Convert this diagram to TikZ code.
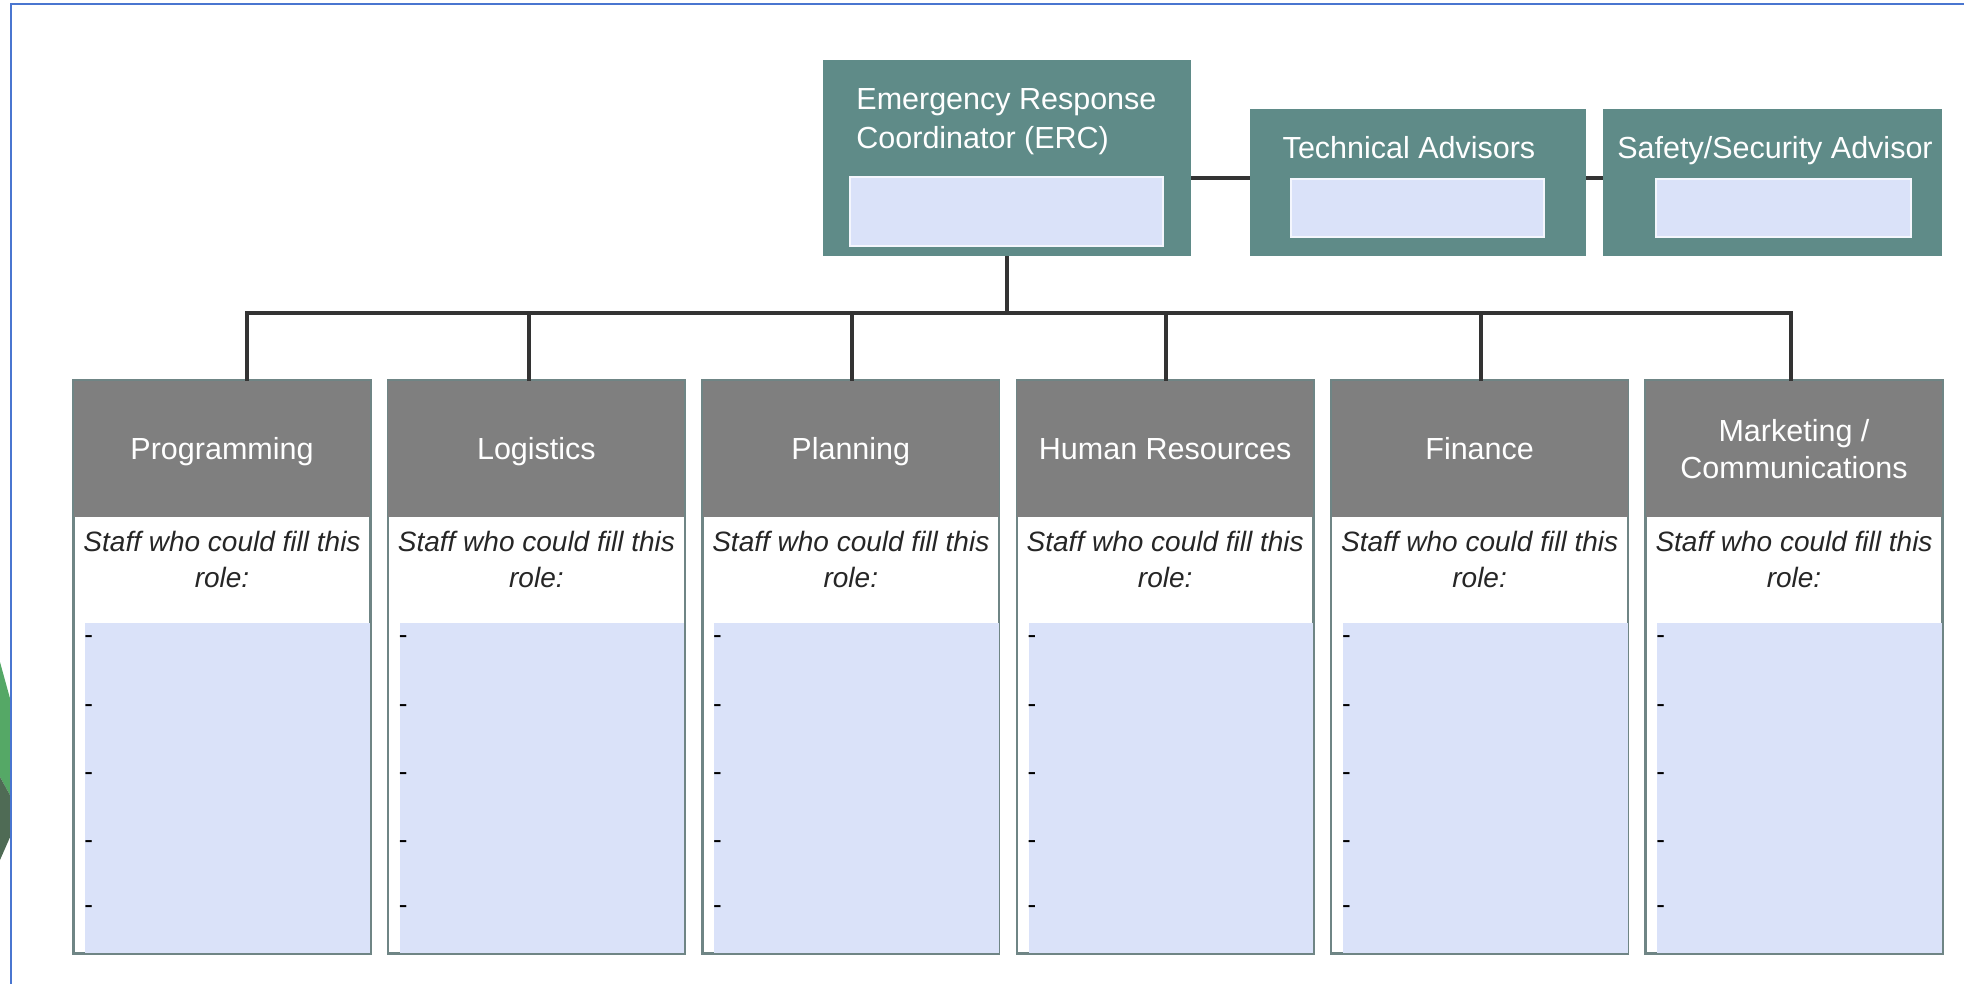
\documentclass[tikz,border=0pt]{standalone}
\usepackage{fontspec}
\setmainfont{Liberation Sans}
\definecolor{teal1}{HTML}{5F8B88}
\definecolor{hdrgray}{HTML}{7F7F7F}
\definecolor{lightblue}{HTML}{DAE2F9}
\definecolor{boxline}{HTML}{6F8585}
\definecolor{linkc}{HTML}{333333}
\definecolor{framec}{HTML}{4A76D0}
\definecolor{greenA}{HTML}{55A866}
\definecolor{greenB}{HTML}{4F6B55}
\begin{document}
\begin{tikzpicture}[x=0.5pt,y=-0.5pt,
  teal/.style={fill=teal1,draw=none,inner sep=0pt},
  inbox/.style={fill=lightblue,draw=white!70!lightblue,line width=0.6pt,inner sep=0pt},
  ttext/.style={text=white,inner sep=0pt,font=\fontsize{15.25pt}{19.5pt}\selectfont},
  hdr/.style={fill=hdrgray,text=white,inner sep=0pt,minimum width=148pt,minimum height=68pt,align=center,font=\fontsize{15.25pt}{18.5pt}\selectfont},
  colbox/.style={fill=white,draw=boxline,line width=0.8pt,inner sep=0pt,minimum width=148pt,minimum height=286pt},
  fillarea/.style={fill=lightblue,inner sep=0pt,minimum width=142.5pt,minimum height=165pt},
  stafftext/.style={inner sep=0pt,align=center,text=black!85,font=\fontsize{14pt}{18pt}\selectfont\itshape},
  dashtext/.style={inner sep=0pt,anchor=west,text=black,font=\fontsize{13pt}{15pt}\selectfont},
  link/.style={draw=linkc,line width=2.1pt,line join=miter},
  frame/.style={draw=framec,line width=1pt}]
\useasboundingbox (0,0) rectangle (1964,984);
% background accents
\fill[greenA] (0,662) -- (11,702) -- (11,797) -- (0,777) -- cycle;
\fill[greenB] (0,777) -- (11,797) -- (11,835) -- (0,860) -- cycle;
\draw[frame] (11,984) -- (11,4) -- (1964,4);
% top boxes
\node[teal,minimum width=184pt,minimum height=98pt] (erc) at (1007,158) {};
\node[inbox,minimum width=156.5pt,minimum height=34.5pt] (ercin) at (1006.5,211.5) {};
\node[ttext,anchor=west,align=left] (erct) at (856,121.5) {Emergency Response\\Coordinator (ERC)};
\node[teal,minimum width=168pt,minimum height=73.5pt] (tech) at (1418,182.5) {};
\node[inbox,minimum width=126.5pt,minimum height=29pt] (techin) at (1417.5,208) {};
\node[ttext] (techt) at (1409,150.5) {\strut Technical Advisors};
\node[teal,minimum width=169.5pt,minimum height=73.5pt] (safe) at (1772.5,182.5) {};
\node[inbox,minimum width=127.5pt,minimum height=29pt] (safein) at (1783.5,208) {};
\node[ttext] (safet) at (1775,150.5) {\strut Safety/Security Advisor};
% side connectors
\draw[link] (erc.east |- techin.north) -- (tech.west |- techin.north);
\draw[link] (tech.east |- safein.north) -- (safe.west |- safein.north);
% columns
\foreach \i/\t/\vx in {0/Programming/247, 1/Logistics/529, 2/Planning/852, 3/Human Resources/1166, 4/Finance/1481, 5/{Marketing /\strut\\\strut Communications}/1791} {
  \pgfmathsetmacro\L{74+314.4*\i}
  \pgfmathsetmacro\C{\L+148}
  \node[colbox] (b\i) at (\C,667) {};
  \node[fillarea,anchor=south east] (f\i) at (b\i.south east) {};
  \draw[draw=boxline,line width=0.8pt] (b\i.north west) rectangle (b\i.south east);
  \node[hdr] (h\i) at (\C,449) {};
  \node[inner sep=0pt,align=center,text=white,font=\fontsize{15.25pt}{18.5pt}\selectfont] (ht\i) at (\C,452.5) {\strut\t};
  \node[stafftext] (s\i) at (\C,559) {Staff who could fill this\\role:};
  \foreach \k/\dy in {1/640,2/709,3/777,4/845,5/910} {
    \node[dashtext] (d\i-\k) at (\L+10,\dy) {-};
  }
  \coordinate (j\i) at (\vx,313);
}
% tree connectors
\draw[link] (erc.south) -- (erc.south |- j0);
\draw[link] (j0 |- h0.north) -- (j0) -- (j5) -- (j5 |- h5.north);
\foreach \i in {1,2,3,4} {
  \draw[link] (j\i) -- (j\i |- h\i.north);
}
\end{tikzpicture}
\end{document}
